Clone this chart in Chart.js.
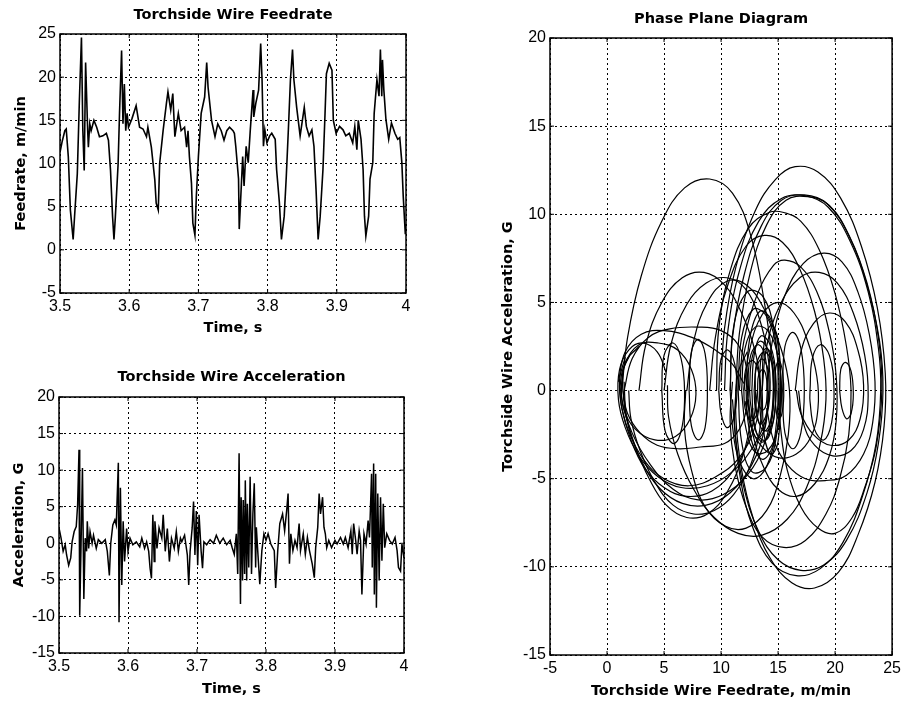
<!DOCTYPE html>
<html>
<head>
<meta charset="utf-8">
<script src="https://cdn.jsdelivr.net/npm/chart.js@4.4.1/dist/chart.umd.min.js"></script>
<style>
  body { margin: 0; background: #fff; width: 905px; height: 703px; position: relative; overflow: hidden; }
  canvas { position: absolute; }
</style>
</head>
<body>
<canvas id="feedChart" width="440" height="350" style="left:0;top:0"></canvas>
<canvas id="accelChart" width="440" height="348" style="left:0;top:355px"></canvas>
<canvas id="phaseChart" width="425" height="703" style="left:480px;top:0"></canvas>
<script>
// Torchside wire feedrate, m/min
var feedTime = [
  3.500,3.503,3.507,3.509,3.512,3.515,3.519,3.521,3.525,3.528,
  3.531,3.533,3.535,3.537,3.540,3.541,3.543,3.545,3.549,3.553,
  3.557,3.562,3.567,3.570,3.573,3.576,3.578,3.580,3.584,3.586,
  3.589,3.591,3.593,3.595,3.597,3.599,3.604,3.610,3.615,3.620,
  3.625,3.627,3.632,3.637,3.639,3.642,3.644,3.649,3.654,3.656,
  3.660,3.663,3.666,3.671,3.675,3.680,3.683,3.685,3.687,3.690,
  3.692,3.695,3.697,3.700,3.704,3.709,3.712,3.714,3.719,3.724,
  3.728,3.733,3.737,3.741,3.745,3.750,3.752,3.754,3.758,3.759,
  3.762,3.764,3.766,3.769,3.772,3.775,3.779,3.780,3.783,3.787,
  3.790,3.792,3.794,3.796,3.799,3.803,3.806,3.811,3.813,3.817,
  3.820,3.824,3.827,3.830,3.833,3.836,3.838,3.842,3.847,3.853,
  3.856,3.860,3.864,3.867,3.870,3.873,3.876,3.880,3.883,3.885,
  3.889,3.893,3.895,3.899,3.904,3.909,3.913,3.918,3.923,3.926,
  3.929,3.931,3.935,3.938,3.940,3.942,3.946,3.948,3.952,3.954,
  3.958,3.961,3.963,3.965,3.966,3.968,3.971,3.975,3.979,3.984,
  3.988,3.991,3.994,3.996,3.999,4.000
];
var feedRate = [
  11.3,12.5,13.8,14.0,10.8,4.6,1.2,3.8,8.8,17.3,
  24.6,13.8,9.2,21.7,13.8,11.9,14.6,13.8,15.0,14.2,
  13.1,13.2,13.5,12.7,9.2,3.8,1.2,3.8,10.0,15.8,
  23.1,14.6,19.2,13.8,15.8,14.2,15.2,16.7,14.2,14.0,
  13.1,14.2,11.9,8.1,5.4,4.6,10.0,13.8,17.1,18.3,
  16.2,18.1,13.1,15.8,13.8,14.2,11.9,13.8,10.8,7.7,
  3.1,1.7,6.2,10.8,15.8,17.7,21.7,18.8,15.0,13.1,
  14.6,13.8,12.7,13.8,14.2,13.8,13.5,12.0,8.2,2.4,
  7.4,10.8,7.4,12.0,10.1,13.9,18.5,15.4,17.0,18.5,
  23.9,19.7,12.0,13.9,12.4,13.2,13.5,12.8,9.3,5.5,
  1.2,3.9,8.5,13.9,19.7,23.2,19.7,16.5,13.2,16.5,
  14.3,13.2,13.9,12.0,7.0,1.2,3.9,9.3,15.8,20.4,
  21.6,20.8,15.0,13.5,14.3,13.9,13.2,13.5,12.4,14.3,
  11.6,15.0,12.8,9.3,3.9,1.6,3.9,8.2,10.1,15.8,
  19.7,17.8,23.2,17.8,22.0,18.5,15.1,12.8,14.7,13.5,
  12.8,13.0,10.1,6.2,1.8,3.0
];

// Torchside wire acceleration, G
var accelTime = [
  3.500,3.503,3.506,3.509,3.511,3.514,3.517,3.519,3.522,3.525,
  3.527,3.529,3.530,3.532,3.534,3.536,3.538,3.540,3.541,3.543,
  3.545,3.548,3.550,3.554,3.557,3.562,3.567,3.570,3.573,3.575,
  3.578,3.581,3.583,3.586,3.587,3.589,3.591,3.593,3.595,3.598,
  3.600,3.603,3.607,3.612,3.617,3.620,3.624,3.627,3.630,3.632,
  3.634,3.636,3.638,3.639,3.642,3.645,3.649,3.651,3.654,3.657,
  3.660,3.663,3.667,3.670,3.673,3.676,3.678,3.682,3.686,3.688,
  3.690,3.693,3.695,3.697,3.699,3.701,3.703,3.706,3.708,3.710,
  3.714,3.719,3.724,3.728,3.733,3.738,3.743,3.748,3.751,3.754,
  3.757,3.759,3.761,3.763,3.764,3.766,3.767,3.769,3.770,3.772,
  3.773,3.775,3.777,3.779,3.781,3.783,3.785,3.786,3.788,3.791,
  3.794,3.797,3.800,3.803,3.807,3.812,3.814,3.817,3.820,3.824,
  3.827,3.830,3.832,3.834,3.836,3.839,3.842,3.845,3.848,3.850,
  3.854,3.857,3.860,3.863,3.867,3.870,3.872,3.875,3.877,3.879,
  3.882,3.884,3.886,3.888,3.891,3.895,3.900,3.903,3.908,3.912,
  3.915,3.919,3.923,3.925,3.927,3.930,3.932,3.935,3.937,3.939,
  3.942,3.945,3.948,3.950,3.953,3.954,3.956,3.957,3.959,3.960,
  3.962,3.964,3.966,3.968,3.970,3.972,3.975,3.979,3.983,3.987,
  3.990,3.992,3.995,3.997,4.000
];
var accelValue = [
  2.1,0.7,-1.1,-0.2,-1.6,-3.0,-2.0,0.2,1.6,2.3,
  5.3,12.8,-9.9,0.0,10.3,-7.6,0.7,-1.1,3.0,-0.7,
  1.6,0.0,1.1,-0.7,0.5,0.0,0.5,-1.1,-4.4,0.0,
  2.5,3.2,2.5,11.0,-10.8,7.6,-5.7,3.0,-2.5,2.0,
  -1.1,0.7,-0.2,0.2,-0.5,0.7,-0.7,0.2,-1.1,-3.4,
  -4.8,3.9,-2.5,3.0,-0.7,2.1,0.7,3.9,-1.1,2.0,
  -2.5,0.7,-0.7,1.6,-1.1,0.7,0.2,1.1,-1.6,-5.7,
  -1.1,2.1,5.7,-1.6,4.4,-3.0,3.9,-1.1,-3.4,0.2,
  -0.2,0.5,0.0,1.1,0.0,0.7,-0.2,0.4,-0.6,-1.5,
  1.3,-4.2,12.3,-8.3,6.3,-5.1,5.9,-4.2,8.6,-5.1,
  5.4,-3.3,9.1,-4.2,4.0,8.2,-3.3,2.2,-1.0,-5.6,
  -1.0,1.3,0.4,1.3,-0.1,-1.0,-6.1,-1.0,2.7,4.0,
  1.7,4.5,6.8,-2.8,1.3,-1.0,0.4,-0.6,2.7,-1.0,
  1.3,-1.5,0.8,-1.0,-2.8,-4.7,-0.6,2.2,6.8,4.0,
  6.3,2.2,1.3,-0.6,0.4,-0.6,0.4,-0.1,0.8,-0.1,
  0.8,-0.6,1.7,-1.5,2.7,0.4,-1.5,1.7,0.4,-7.0,
  1.3,-0.1,3.1,0.8,9.5,-3.3,10.9,-7.0,9.5,-8.8,
  6.8,-5.1,6.3,-2.4,5.4,-0.6,1.3,0.4,-0.1,0.8,
  -1.0,-3.3,-3.8,-0.1,-2.0
];

// Phase plane: loops of [feedrate, acceleration]
var phaseLoops = [
  [[1.3,0],[1.8,3],[3,6.5],[4.8,9.6],[6.8,11.5],[9,12],[11,11.2],[12.6,8.8],[13.8,5],[14.5,1.5],[14.5,-1],[13.8,-3],[12.3,-4.8],[10.2,-5.9],[8,-6.2],[5.8,-5.6],[3.8,-4.2],[2.2,-2.4],[1.3,-0.5],[1.4,1]],
  [[10,0.5],[10.3,3.5],[11.3,7],[13,10.2],[14.8,12],[16.5,12.7],[18.5,12.4],[20.5,10.9],[22.3,8.2],[23.7,4.7],[24.4,1],[24.3,-2],[23.5,-5.2],[22,-8.2],[20.3,-10.3],[18.2,-11.2],[16.2,-10.9],[14.3,-9.5],[12.8,-7.2],[11.8,-4.5],[11.3,-1.5],[11.5,1],[12.3,2.2]],
  [[10.8,0],[11,3],[12,6.5],[13.5,9.3],[15.3,10.8],[17.3,11.1],[19.3,10.6],[21.2,8.8],[22.8,6],[23.9,2.8],[24.2,0],[23.8,-3],[22.8,-5.8],[21,-8.5],[19,-9.9],[17,-10.2],[15,-9.6],[13.3,-8],[12,-5.5],[11.3,-2.8],[11,-0.5]],
  [[11.3,0],[11.6,3.2],[12.6,6.8],[14,9.4],[15.7,10.8],[17.6,11],[19.5,10.5],[21.3,8.7],[22.8,6.1],[23.8,3],[24.1,0],[23.6,-3.2],[22.6,-5.5],[21.5,-7.2],[20,-8.1],[18.5,-7.8],[17,-6.6],[15.8,-4.5],[15.2,-2],[15,0]],
  [[10.3,0],[10.6,3.4],[11.7,7],[13.3,9.6],[15.3,10.9],[17.4,11.05],[19.4,10.4],[21.3,8.5],[22.9,5.6],[23.8,2.4],[24,0],[23.6,-3],[22.4,-6],[20.7,-8.6],[18.7,-10.1],[16.6,-10.5],[14.5,-9.8],[12.8,-7.8],[11.7,-5],[11.2,-2],[11.3,0]],
  [[9.6,0],[9.8,3.5],[10.8,6.8],[12.4,9.2],[14.2,10.1],[15.5,10.1],[17,9.6],[18.6,8],[20,5.5],[21,2.5],[21.4,0],[21.2,-2.5],[20.4,-5],[19.2,-7],[17.4,-8.5],[15.5,-8.9],[13.6,-8.3],[12.2,-6.6],[11.2,-4.2],[10.8,-1.8],[11,0.5]],
  [[9,0],[9.5,3],[10.6,6],[12.2,8.2],[13.8,8.8],[15.4,8.4],[16.9,6.9],[18.2,4.5],[19,1.8],[19.2,-0.5],[18.7,-3],[17.5,-5.5],[15.8,-7.3],[13.6,-8.2],[11.5,-8.1],[9.4,-7.2],[7.6,-5.6],[6.2,-3.6],[5.4,-1.5],[5.3,0.3]],
  [[14,0],[14.5,2.8],[15.6,5.4],[17.2,7.2],[19,7.8],[20.6,7.3],[22,5.6],[23,3.2],[23.5,0.5],[23.3,-1.8],[22.5,-3.6],[21,-4.8],[19.2,-5.1],[17.4,-5],[15.8,-4.2],[14.6,-2.8],[14,-1]],
  [[11.6,0],[12,2.8],[13.2,5.5],[14.6,7.1],[15.6,7.4],[17,7],[18.4,5.6],[19.5,3.3],[20.1,0.8],[20.1,-1.7],[19.5,-3.7],[18.2,-5.3],[16.6,-6],[15,-5.6],[13.7,-4.3],[12.8,-2.5],[12.4,-0.5]],
  [[13.6,0],[14,2.5],[15.2,4.9],[16.9,6.4],[18.6,6.7],[20.2,6.1],[21.6,4.4],[22.6,2],[22.9,-0.3],[22.5,-2.2],[21.4,-3.4],[19.8,-3.7],[18.2,-3.1],[17.2,-1.8],[16.8,0]],
  [[2.8,0],[3.4,2.6],[4.8,5],[6.6,6.4],[8.5,6.7],[10.3,6],[11.8,4.4],[13,2.2],[13.5,0],[13.4,-2.2],[12.6,-4.2],[11.1,-5.9],[9.4,-6.8],[7.6,-7],[5.8,-6.5],[4.2,-5.2],[2.9,-3.4],[2.1,-1.6],[1.9,0]],
  [[5,0],[5.6,2.6],[7,4.9],[8.7,6.1],[10.5,6.4],[12.1,5.8],[13.3,4.2],[14.1,2],[14.3,0],[13.9,-1.7],[12.8,-3.2],[11,-4.6],[8.8,-5.4],[6.5,-5.5],[4.5,-4.9],[2.8,-3.7],[1.6,-2.1],[1,-0.5],[1.1,1.2],[1.9,2.3],[3.1,2.7],[4.4,2.2],[5.2,1]],
  [[12,0],[12.5,2.3],[13.6,4.3],[15,5],[16.4,4.4],[17.6,2.8],[18.4,0.8],[18.5,-1],[17.9,-2.6],[16.6,-3.6],[15,-3.8],[13.6,-3.2],[12.6,-2],[12.1,-0.6]],
  [[16.5,0],[17,2.2],[18.1,3.8],[19.5,4.4],[20.9,3.9],[22,2.3],[22.5,0.3],[22.2,-1.6],[21.2,-2.8],[19.6,-3.1],[18.1,-2.5],[17,-1.3],[16.6,0]],
  [[1.5,0],[2.2,1.8],[3.6,3],[5.5,3.5],[8,3.6],[10,3.4],[11.5,2.6],[12.3,1],[12.3,-0.8],[11.6,-2.2],[10.3,-3],[8.2,-3.2],[6.2,-3.3],[4.4,-3.1],[2.9,-2.4],[1.8,-1.3],[1.4,0]],
  [[1.2,0],[1.6,1.5],[2.8,2.6],[4.5,2.7],[6.2,2.3],[7.4,1.2],[7.8,-0.2],[7.3,-1.6],[6,-2.6],[4.2,-2.8],[2.5,-2.2],[1.5,-1.1],[1.2,0]],
  [[7,0],[7.6,2.8],[8.8,5],[10.5,6.2],[12.2,6],[13.8,4.6],[15.3,2.3],[16,0],[15.9,-2.5],[15.2,-4.8],[14,-6.8],[12.2,-7.8],[10.4,-7.7],[8.6,-6.6],[7.4,-4.5],[6.8,-2.2],[6.9,0]],
  [[14.2,0],[13.8,-2.2],[12.7,-4.2],[10.8,-5.8],[8.7,-6.5],[6.6,-6.4],[4.7,-5.6],[3.1,-4.1],[1.9,-2.1],[1.4,0],[1.6,1.6],[2.8,2.5]],
  [[13.5,0],[13,-2],[11.6,-3.8],[9.5,-4.9],[7.2,-5.4],[5,-5],[3.2,-3.9],[1.9,-2.3],[1.2,-0.6],[1.3,1],[2,2]],
  [[13.2,0],[12.6,-2.4],[11.2,-4.4],[9.2,-5.7],[7,-6],[5,-5.5],[3.3,-4.4],[2.1,-2.8],[1.3,-1],[1.1,0.6],[1.6,1.9]],
  [[12.8,-1],[12,-3.5],[10.5,-5.8],[8.8,-7],[7,-7.2],[5.2,-6.5],[3.7,-5],[2.5,-3.2],[1.7,-1.4],[1.5,0.5]],
  [[1,0.5],[1.6,2.2],[3,3.2],[5,3.4],[7.5,3],[9.5,2.3],[11,1.5],[12,0.4]],
  [[12.5,0],[12.7,1.8],[13.4,2.8],[14.2,2.2],[14.6,0.4],[14.5,-1.5],[13.9,-2.8],[13.1,-2.4],[12.6,-0.8],[12.5,0]],
  [[12.9,0],[13.1,1.3],[13.6,1.8],[14.1,1.2],[14.2,-0.3],[13.9,-1.5],[13.4,-1.9],[13,-1],[12.9,0]],
  [[11.8,0],[12.1,2.4],[13,3.6],[14.1,3.4],[15,1.9],[15.3,0],[15,-2.1],[14.1,-3.4],[13,-3.5],[12.2,-2.2],[11.8,0]],
  [[13.2,0],[13.3,0.9],[13.7,1.2],[14,0.6],[14,-0.6],[13.7,-1.1],[13.3,-0.8],[13.2,0]],
  [[12.2,0],[12.5,2.9],[13.4,4.5],[14.4,4],[15.1,2],[15.2,-0.5],[14.7,-2.8],[13.7,-3.9],[12.8,-3.1],[12.3,-1.4],[12.2,0]],
  [[12.7,0],[12.9,2],[13.5,3.1],[14.3,2.6],[14.8,0.8],[14.7,-1.2],[14.2,-2.6],[13.5,-2.9],[12.9,-1.8],[12.7,0]],
  [[13,0],[13.1,1.5],[13.8,2.2],[14.5,1.5],[14.6,0],[14.4,-1.6],[13.8,-2.3],[13.2,-1.5],[13,0]],
  [[12.3,0],[12.6,2],[13.3,2.6],[13.9,1.8],[14.1,0],[13.9,-2],[13.2,-2.7],[12.6,-1.9],[12.3,0]],
  [[13.4,0],[13.5,1.8],[14,2.4],[14.6,1.6],[14.8,0],[14.6,-1.7],[14,-2.3],[13.5,-1.6],[13.4,0]],
  [[11.5,0],[11.8,3],[12.8,4.6],[13.9,4.3],[14.8,2.6],[15.1,0],[14.8,-2.8],[13.9,-4.4],[12.7,-4.6],[11.8,-2.9],[11.5,0]],
  [[12,0],[12.2,1.3],[12.8,1.7],[13.3,1],[13.4,-0.2],[13.1,-1.4],[12.6,-1.7],[12.1,-1],[12,0]],
  [[13.6,0],[13.8,2.8],[14.4,3.7],[15,2.9],[15.2,0],[15,-2.9],[14.4,-3.6],[13.8,-2.6],[13.6,0]],
  [[10.8,0],[11.1,3.6],[12.3,5.6],[13.6,5.4],[14.6,3.6],[15,0.8],[14.8,-2.2],[14,-4.3],[12.8,-5],[11.6,-4],[11,-2],[10.8,0]],
  [[14.7,0],[14.8,1.3],[15.1,1.7],[15.4,1],[15.5,-0.3],[15.3,-1.4],[15,-1.6],[14.8,-0.9],[14.7,0]],
  [[20.4,0],[20.5,1.2],[20.9,1.6],[21.4,1.1],[21.6,-0.2],[21.4,-1.3],[21,-1.6],[20.6,-1],[20.4,0]],
  [[17.8,0],[18,1.8],[18.7,2.6],[19.5,2],[19.9,0.2],[19.7,-1.8],[19,-2.8],[18.2,-2.2],[17.8,-0.6],[17.8,0]],
  [[15.4,0],[15.6,2.5],[16.3,3.3],[17,2.4],[17.3,0],[17,-2.4],[16.3,-3.3],[15.6,-2.4],[15.4,0]],
  [[9.8,0],[10,1.8],[10.6,2.3],[11.2,1.5],[11.4,0],[11.1,-1.6],[10.5,-2.1],[10,-1.3],[9.8,0]],
  [[4.8,0],[5,2],[5.8,2.7],[6.5,1.8],[6.8,0],[6.6,-2],[5.9,-3],[5.1,-2.3],[4.8,0]],
  [[7.2,0],[7.4,2.2],[8,2.9],[8.6,2.1],[8.8,0],[8.6,-2.1],[8,-2.8],[7.4,-2],[7.2,0]]
];

var feedTicks = [-5, 25, 5];
var accelTicks = [-15, 20, 5];
var timeTicks = [3.5, 4.0, 0.1];
var phaseXTicks = [-5, 25, 5];
var phaseYTicks = [-15, 20, 5];

Chart.defaults.animation = false;
Chart.defaults.color = '#000';

var titleFont = { family: 'DejaVu Sans', weight: 'bold', size: 14.5 };
var tickFont = { family: 'Liberation Sans', size: 16 };

// box round the plot and small inward tick marks, like the original
var framePlugin = {
  id: 'frame',
  afterDatasetsDraw: function (chart) {
    var ctx = chart.ctx, a = chart.chartArea, sx = chart.scales.x, sy = chart.scales.y;
    ctx.save();
    ctx.strokeStyle = '#000';
    ctx.lineWidth = 1.5;
    ctx.strokeRect(a.left, a.top, a.right - a.left, a.bottom - a.top);
    ctx.lineWidth = 1;
    ctx.beginPath();
    sx.ticks.forEach(function (t) {
      var x = sx.getPixelForValue(t.value);
      ctx.moveTo(x, a.bottom); ctx.lineTo(x, a.bottom - 4);
      ctx.moveTo(x, a.top); ctx.lineTo(x, a.top + 4);
    });
    sy.ticks.forEach(function (t) {
      var y = sy.getPixelForValue(t.value);
      ctx.moveTo(a.left, y); ctx.lineTo(a.left + 4, y);
      ctx.moveTo(a.right, y); ctx.lineTo(a.right - 4, y);
    });
    ctx.stroke();
    ctx.restore();
  }
};

function makeScale(t, label, size, titlePad, fmt) {
  return {
    type: 'linear',
    min: t[0], max: t[1],
    ticks: { stepSize: t[2], font: tickFont, color: '#000', padding: 4, autoSkip: false, maxRotation: 0,
             callback: fmt || function (v) { return v; } },
    grid: { color: '#000', lineWidth: 1, drawTicks: false },
    border: { display: false, dash: [2, 3] },
    title: { display: true, text: label, font: titleFont, color: '#000', padding: titlePad },
    afterFit: function (s) { if (s.isHorizontal()) s.height = size; else s.width = size; }
  };
}

function makeChart(id, datasets, title, titlePad, xScale, yScale, padRight, tension) {
  return new Chart(document.getElementById(id), {
    type: 'line',
    data: { datasets: datasets },
    options: {
      responsive: false,
      layout: { padding: { left: 0, right: padRight, top: 0, bottom: 0 } },
      elements: { point: { radius: 0 }, line: { borderColor: '#000', tension: tension } },
      plugins: {
        legend: { display: false },
        tooltip: { enabled: false },
        // centred over the plot box, not the whole canvas
        title: { display: true, fullSize: false, text: title, font: titleFont, color: '#000', padding: titlePad }
      },
      scales: { x: xScale, y: yScale }
    },
    plugins: [framePlugin]
  });
}

function series(xs, ys) {
  return xs.map(function (x, i) { return { x: x, y: ys[i] }; });
}

var timeFmt = function (v) { return String(Number(v.toFixed(1))); };

makeChart('feedChart',
  [{ data: series(feedTime, feedRate), borderColor: '#000', borderWidth: 1.6 }],
  'Torchside Wire Feedrate', { top: 6.3, bottom: 10.3 },
  makeScale(timeTicks, 'Time, s', 57, { top: 0, bottom: 13.3 }, timeFmt),
  makeScale(feedTicks, 'Feedrate, m/min', 60, { top: 12.3, bottom: 0 }),
  34, 0);

makeChart('accelChart',
  [{ data: series(accelTime, accelValue), borderColor: '#000', borderWidth: 1.5 }],
  'Torchside Wire Acceleration', { top: 13.3, bottom: 11.3 },
  makeScale(timeTicks, 'Time, s', 50, { top: 0, bottom: 5.3 }, timeFmt),
  makeScale(accelTicks, 'Acceleration, G', 59, { top: 11, bottom: 0 }),
  36, 0);

makeChart('phaseChart',
  phaseLoops.map(function (loop) {
    return { data: loop.map(function (p) { return { x: p[0], y: p[1] }; }), borderColor: '#000', borderWidth: 1.2 };
  }),
  'Phase Plane Diagram', { top: 10.3, bottom: 10.3 },
  makeScale(phaseXTicks, 'Torchside Wire Feedrate, m/min', 48, { top: 0, bottom: 3.3 }),
  makeScale(phaseYTicks, 'Torchside Wire Acceleration, G', 70, { top: 19.3, bottom: 0 }),
  12, 0.4);
</script>
</body>
</html>
